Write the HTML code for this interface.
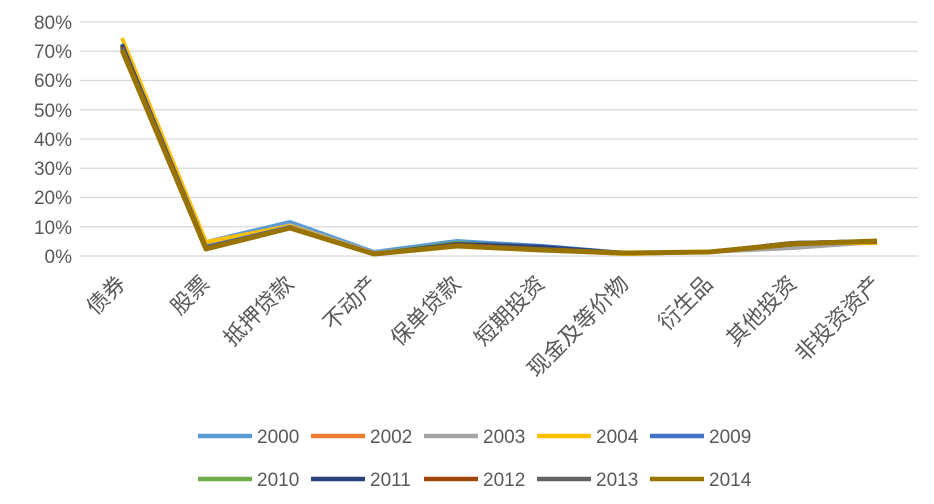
<!DOCTYPE html>
<html><head><meta charset="utf-8"><style>
body{margin:0;background:#fff;width:934px;height:499px;overflow:hidden}
svg text{font-family:"Liberation Sans",sans-serif}
svg .cat{font-family:"Noto Serif CJK SC","Noto Serif CJK JP",serif}
</style></head><body>
<svg width="934" height="499" xmlns="http://www.w3.org/2000/svg">
<g stroke="#d9d9d9" stroke-width="1.3">
<line x1="80" x2="918" y1="22" y2="22"/><line x1="80" x2="918" y1="51.25" y2="51.25"/>
<line x1="80" x2="918" y1="80.5" y2="80.5"/><line x1="80" x2="918" y1="109.75" y2="109.75"/>
<line x1="80" x2="918" y1="139" y2="139"/><line x1="80" x2="918" y1="168.25" y2="168.25"/>
<line x1="80" x2="918" y1="197.5" y2="197.5"/><line x1="80" x2="918" y1="226.75" y2="226.75"/>
<line x1="80" x2="918" y1="256" y2="256"/>
</g>
<g font-size="19" fill="#595959" text-anchor="end">
<text x="72" y="29">80%</text><text x="72" y="58">70%</text><text x="72" y="87">60%</text>
<text x="72" y="117">50%</text><text x="72" y="146">40%</text><text x="72" y="175">30%</text>
<text x="72" y="204">20%</text><text x="72" y="234">10%</text><text x="72" y="263">0%</text>
</g>
<g fill="none" stroke-linejoin="round" stroke-width="4">
<polyline stroke="#5b9bd5" points="122,46 206,242 290,222 374,252 457,241 541,246 625,253 709,252 793,245 877,242"/>
<polyline stroke="#ed7d31" points="122,48 206,245 290,226 374,254 457,245 541,250 625,254 709,252 793,244 877,243"/>
<polyline stroke="#a5a5a5" points="122,47 206,244 290,225 374,253 457,244 541,249 625,254 709,252 793,248 877,242"/>
<polyline stroke="#ffc000" points="122,38 206,242 290,226 374,254 457,245 541,249 625,254 709,252 793,243 877,243"/>
<polyline stroke="#4472c4" points="122,44 206,247 290,227 374,254 457,243 541,246 625,253 709,252 793,243 877,241"/>
<polyline stroke="#70ad47" points="122,46 206,248 290,228 374,254 457,243 541,248 625,253 709,252 793,243 877,241"/>
<polyline stroke="#264478" points="122,45 206,248 290,228 374,254 457,244 541,247 625,253 709,252 793,243 877,241"/>
<polyline stroke="#9e480e" points="122,47 206,248 290,228 374,254 457,245 541,249 625,253 709,252 793,243 877,242"/>
<polyline stroke="#636363" points="122,48 206,249 290,228 374,254 457,246 541,249 625,253 709,252 793,243 877,241"/>
<polyline stroke="#997300" stroke-width="5" points="122,50 206,249 290,228 374,254 457,246 541,250 625,253 709,252 793,244 877,241"/>
</g>
<g class="cat" font-size="22" fill="#595959" text-anchor="end">
<text transform="translate(127,285) rotate(-45)">债券</text>
<text transform="translate(211,285) rotate(-45)">股票</text>
<text transform="translate(295,285) rotate(-45)">抵押贷款</text>
<text transform="translate(379,285) rotate(-45)">不动产</text>
<text transform="translate(462,285) rotate(-45)">保单贷款</text>
<text transform="translate(546,285) rotate(-45)">短期投资</text>
<text transform="translate(630,285) rotate(-45)">现金及等价物</text>
<text transform="translate(714,285) rotate(-45)">衍生品</text>
<text transform="translate(798,285) rotate(-45)">其他投资</text>
<text transform="translate(882,285) rotate(-45)">非投资资产</text>
</g>
<g stroke-width="4.5">
<line x1="198" x2="252" y1="436" y2="436" stroke="#5b9bd5"/>
<line x1="311" x2="365" y1="436" y2="436" stroke="#ed7d31"/>
<line x1="424" x2="478" y1="436" y2="436" stroke="#a5a5a5"/>
<line x1="537" x2="591" y1="436" y2="436" stroke="#ffc000"/>
<line x1="650" x2="704" y1="436" y2="436" stroke="#4472c4"/>
<line x1="198" x2="252" y1="479" y2="479" stroke="#70ad47"/>
<line x1="311" x2="365" y1="479" y2="479" stroke="#264478"/>
<line x1="424" x2="478" y1="479" y2="479" stroke="#9e480e"/>
<line x1="537" x2="591" y1="479" y2="479" stroke="#636363"/>
<line x1="650" x2="704" y1="479" y2="479" stroke="#997300"/>
</g>
<g font-size="19" fill="#595959">
<text x="257" y="443">2000</text><text x="370" y="443">2002</text><text x="483" y="443">2003</text>
<text x="596" y="443">2004</text><text x="709" y="443">2009</text>
<text x="257" y="486">2010</text><text x="370" y="486">2011</text><text x="483" y="486">2012</text>
<text x="596" y="486">2013</text><text x="709" y="486">2014</text>
</g>
</svg>
</body></html>
